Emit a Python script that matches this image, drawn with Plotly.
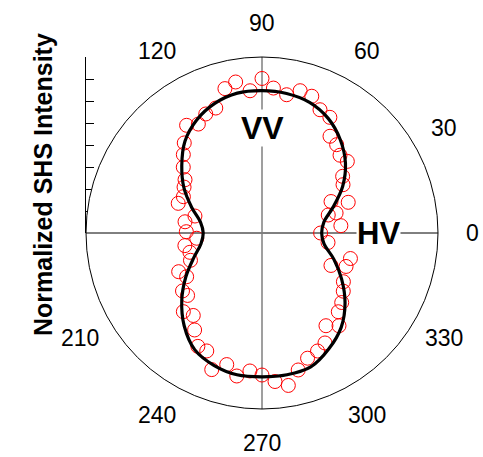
import math
import plotly.graph_objects as go

# Fitted curve (normalized intensity vs polarization angle, degrees)
curve_theta = [0, 10, 20, 30, 40, 50, 60, 70, 80, 90, 100, 110, 120, 130, 140, 150, 160, 170,
               180, 190, 200, 210, 220, 230, 240, 250, 260, 270, 280, 290, 300, 310, 320, 330,
               340, 350, 360]
curve_r = [0.339, 0.357, 0.430, 0.529, 0.619, 0.692, 0.752, 0.790, 0.805, 0.809, 0.807, 0.784,
           0.742, 0.681, 0.595, 0.512, 0.425, 0.355, 0.334, 0.352, 0.413, 0.500, 0.595, 0.688,
           0.765, 0.800, 0.818, 0.817, 0.818, 0.810, 0.760, 0.700, 0.616, 0.522, 0.434, 0.358,
           0.339]

# Measured data points
data_theta = [0.0, 5.3, 15.2, 15.1, 19.6, 24.5, 30.8, 35.1, 40.0, 44.9, 49.8, 54.9, 59.6, 64.8,
              70.0, 75.0, 79.9, 85.5, 90.0, 94.8, 99.9, 104.4, 110.3, 115.3, 120.3, 125.0, 130.8,
              135.1, 140.1, 145.3, 149.5, 155.2, 160.5, 165.8, 171.7, 179.0, 184.6, 189.3, 195.0,
              200.9, 204.9, 210.1, 216.1, 220.0, 225.0, 230.2, 235.2, 240.5, 244.9, 249.8, 255.0,
              260.0, 265.0, 270.0, 275.0, 279.8, 284.8, 290.0, 295.2, 299.8, 304.6, 309.7, 314.1,
              318.9, 324.4, 329.1, 334.8, 338.3, 343.9, 351.8]
data_r = [0.333, 0.450, 0.390, 0.436, 0.520, 0.431, 0.536, 0.560, 0.633, 0.626, 0.657, 0.672,
          0.762, 0.774, 0.827, 0.837, 0.798, 0.826, 0.878, 0.811, 0.871, 0.847, 0.757, 0.748,
          0.717, 0.747, 0.676, 0.631, 0.583, 0.532, 0.514, 0.492, 0.505, 0.393, 0.442, 0.430,
          0.372, 0.444, 0.424, 0.435, 0.522, 0.495, 0.559, 0.552, 0.632, 0.610, 0.671, 0.740,
          0.740, 0.827, 0.774, 0.825, 0.787, 0.807, 0.847, 0.879, 0.805, 0.757, 0.741, 0.720,
          0.640, 0.685, 0.623, 0.601, 0.568, 0.539, 0.433, 0.514, 0.523, 0.379]

angle_ticks = [0, 30, 60, 90, 120, 210, 240, 270, 300, 330]
angle_labels = [str(a) for a in angle_ticks]
radial_ticks = [0, 1, 2, 3, 4, 5, 6, 7, 8]

FONT = "Liberation Sans, Arial, sans-serif"
W, H = 483, 457
cx, cy, R = 262, 233, 176
LABEL_R = 210  # px from centre to angular label centres

fig = go.Figure()

# crosshair lines through the centre
fig.add_trace(go.Scatterpolar(r=[1, 0, 1], theta=[0, 0, 180], mode="lines",
                              line=dict(color="black", width=1), hoverinfo="skip", showlegend=False))
fig.add_trace(go.Scatterpolar(r=[1, 0, 1], theta=[90, 0, 270], mode="lines",
                              line=dict(color="#7f7f7f", width=1.5), hoverinfo="skip", showlegend=False))

fig.add_trace(go.Scatterpolar(r=data_r, theta=data_theta, mode="markers",
                              marker=dict(symbol="circle-open", size=14, color="red",
                                          line=dict(width=1, color="red")),
                              showlegend=False))
fig.add_trace(go.Scatterpolar(r=curve_r, theta=curve_theta, mode="lines",
                              line=dict(color="black", width=3.2, shape="spline", smoothing=1),
                              showlegend=False))

# left scale axis (cartesian)
fig.add_trace(go.Scatter(x=[0], y=[0], mode="markers", marker=dict(opacity=0),
                         hoverinfo="skip", showlegend=False, xaxis="x", yaxis="y"))

annotations = []
for a, lab in zip(angle_ticks, angle_labels):
    px = cx + LABEL_R * math.cos(math.radians(a))
    py = cy - LABEL_R * math.sin(math.radians(a))
    annotations.append(dict(text=lab, x=px / W, y=(H - py) / H, xref="paper", yref="paper",
                            showarrow=False, xanchor="center", yanchor="middle",
                            font=dict(size=23, family=FONT, color="black")))

annotations += [
    dict(text="<b>VV</b>", x=cx / W, y=(H - 128) / H, xref="paper", yref="paper",
         showarrow=False, font=dict(size=32, family=FONT, color="black"),
         bgcolor="white", xanchor="center", yanchor="middle", borderpad=0),
    dict(text="<b>HV</b>", x=378 / W, y=(H - 233) / H, xref="paper", yref="paper",
         showarrow=False, font=dict(size=31, family=FONT, color="black"),
         bgcolor="white", xanchor="center", yanchor="middle", borderpad=0),
    dict(text="<b>Normalized SHS Intensity</b>", x=43 / W, y=(H - 185) / H,
         xref="paper", yref="paper", textangle=-90, showarrow=False,
         font=dict(size=25, family=FONT, color="black"),
         xanchor="center", yanchor="middle"),
]

fig.update_layout(
    width=W, height=H,
    margin=dict(l=0, r=0, t=0, b=0),
    paper_bgcolor="white", plot_bgcolor="rgba(0,0,0,0)",
    font=dict(family=FONT, color="black"),
    polar=dict(
        domain=dict(x=[(cx - R) / W, (cx + R) / W], y=[(H - cy - R) / H, (H - cy + R) / H]),
        bgcolor="white",
        radialaxis=dict(visible=False, range=[0, 1]),
        angularaxis=dict(direction="counterclockwise", rotation=0,
                         tickmode="array", tickvals=angle_ticks, ticktext=angle_labels,
                         ticks="", showticklabels=False,
                         showgrid=False, showline=True, linecolor="black", linewidth=1),
    ),
    xaxis=dict(domain=[(cx - R) / W, 0.5], visible=False, range=[0, 1], fixedrange=True),
    yaxis=dict(domain=[(H - cy) / H, (H - cy + R) / H], range=[0, 8], tickvals=radial_ticks,
               ticks="inside", ticklen=8, tickwidth=1, tickcolor="black",
               showticklabels=False, showgrid=False, zeroline=False,
               showline=True, linecolor="black", linewidth=1, anchor="x", fixedrange=True),
    annotations=annotations,
)

fig.write_html("out.html", config={"displayModeBar": False},
               post_script="document.body.style.margin='0';document.body.style.overflow='hidden';")
